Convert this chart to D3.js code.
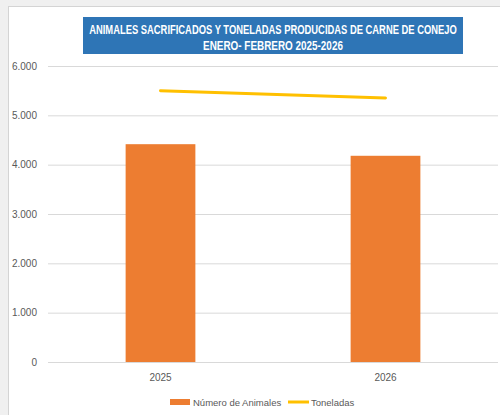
<!DOCTYPE html>
<html>
<head>
<meta charset="utf-8">
<script src="https://cdn.jsdelivr.net/npm/d3@7"></script>
<style>
    body { margin: 0; background: #f0f0f0; }
    svg { display: block; }
</style>
</head>
<body>
<svg id="chart" width="500" height="415"></svg>
<script>
// Chart data
const years = ['2025', '2026'];
const animales = [4415, 4180];
const toneladas = [5500, 5350];
const yTicks = [0, 1000, 2000, 3000, 4000, 5000, 6000];
const titleLines = ['ANIMALES SACRIFICADOS Y TONELADAS PRODUCIDAS DE CARNE DE CONEJO', 'ENERO- FEBRERO 2025-2026'];
const legendLabels = ['Número de Animales', 'Toneladas'];

function drawChart() {
    const svg = d3.select('#chart');
    const margin = { left: 48, right: 498, top: 66, bottom: 362 };

    // white chart area with the grey frame of the sheet around it
    svg.append('rect').attr('x', 0).attr('y', 0).attr('width', 500).attr('height', 415).attr('fill', '#f0f0f0');
    svg.append('rect').attr('x', 8.5).attr('y', 6.5).attr('width', 495).attr('height', 412)
        .attr('fill', '#fff').attr('stroke', '#d4d4d4');

    const x = d3.scaleBand().domain(years).range([margin.left, margin.right]).paddingInner(0.69).paddingOuter(0.345);
    const y = d3.scaleLinear().domain([0, 6000]).range([margin.bottom, margin.top]);

    // gridlines
    svg.append('g').selectAll('line')
        .data(yTicks)
        .enter().append('line')
        .attr('x1', margin.left).attr('x2', margin.right)
        .attr('y1', d => y(d) + 0.5).attr('y2', d => y(d) + 0.5)
        .attr('stroke', '#d9d9d9').attr('stroke-width', 1);

    // y labels
    const fmt = d3.formatLocale({ decimal: ',', thousands: '.', grouping: [3], currency: ['', ''] }).format(',');
    svg.append('g').selectAll('text')
        .data(yTicks)
        .enter().append('text')
        .attr('x', 37).attr('y', d => y(d))
        .attr('dy', '0.35em')
        .attr('text-anchor', 'end')
        .style('font', '10px "Liberation Sans", sans-serif')
        .attr('fill', '#595959')
        .text(d => fmt(d));

    // bars
    svg.append('g').selectAll('rect')
        .data(animales)
        .enter().append('rect')
        .attr('x', (d, i) => x(years[i]))
        .attr('width', x.bandwidth())
        .attr('y', d => y(d))
        .attr('height', d => y(0) - y(d))
        .attr('fill', '#ed7d31');

    // line
    const line = d3.line()
        .x((d, i) => x(years[i]) + x.bandwidth() / 2)
        .y(d => y(d));
    svg.append('path')
        .datum(toneladas)
        .attr('d', line)
        .attr('fill', 'none')
        .attr('stroke', '#ffc000')
        .attr('stroke-width', 3)
        .attr('stroke-linecap', 'round');

    // x labels
    svg.append('g').selectAll('text')
        .data(years)
        .enter().append('text')
        .attr('x', d => x(d) + x.bandwidth() / 2)
        .attr('y', 381)
        .attr('text-anchor', 'middle')
        .style('font', '10px "Liberation Sans", sans-serif')
        .attr('fill', '#595959')
        .text(d => d);

    // title box - the text is squeezed horizontally to look like the narrow original font
    svg.append('rect').attr('x', 83).attr('y', 17).attr('width', 380).attr('height', 37).attr('fill', '#2e75b6');
    const titleWidths = [368, 140];
    const titleY = [34, 50];
    titleLines.forEach((t, i) => {
        const g = svg.append('g');
        const txt = g.append('text')
            .attr('x', 0).attr('y', 0)
            .attr('text-anchor', 'middle')
            .style('font', 'bold 12.5px "Liberation Sans", sans-serif')
            .attr('fill', '#fff')
            .text(t);
        const w = txt.node().getComputedTextLength();
        g.attr('transform', `translate(273,${titleY[i]}) scale(${titleWidths[i] / w},1)`);
    });

    // legend
    const legend = svg.append('g');
    legend.append('rect').attr('x', 170).attr('y', 399).attr('width', 20).attr('height', 6).attr('fill', '#ed7d31');
    legend.append('text').attr('x', 193).attr('y', 405.5)
        .style('font', '9.5px "Liberation Sans", sans-serif')
        .attr('fill', '#595959')
        .text(legendLabels[0]);
    legend.append('line').attr('x1', 288).attr('x2', 309).attr('y1', 402).attr('y2', 402)
        .attr('stroke', '#ffc000').attr('stroke-width', 3);
    legend.append('text').attr('x', 311).attr('y', 405.5)
        .style('font', '9.5px "Liberation Sans", sans-serif')
        .attr('fill', '#595959')
        .text(legendLabels[1]);
}

document.addEventListener('DOMContentLoaded', function () {
    drawChart();
});
</script>
</body>
</html>
